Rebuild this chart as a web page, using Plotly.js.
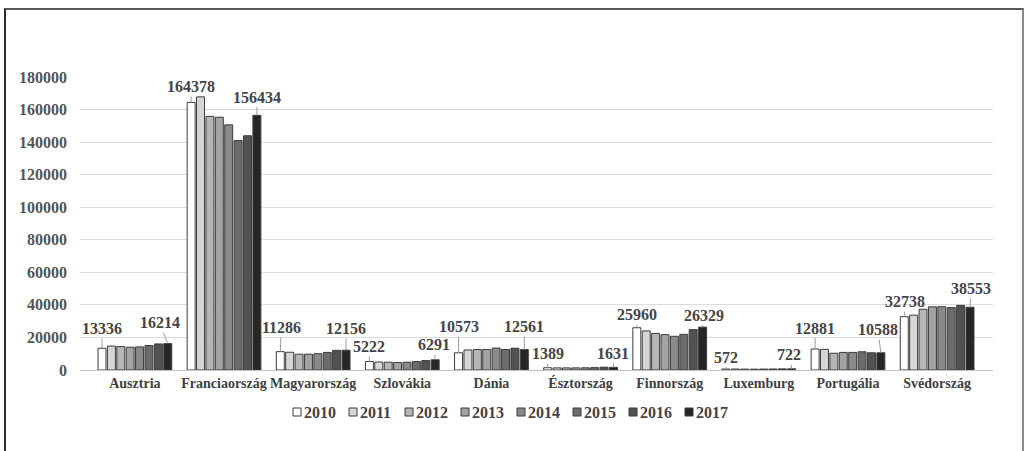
<!DOCTYPE html>
<html>
<head>
<meta charset="utf-8">
<script src="https://cdn.plot.ly/plotly-3.0.1.min.js"></script>
<style>
  html, body { margin: 0; padding: 0; background: #fff; }
  #wrap { position: relative; width: 1024px; height: 451px; overflow: hidden; }
  #frame {
    position: absolute; left: 4px; top: 8px; width: 1020px; height: 480px;
    box-sizing: border-box;
    border-left: 2px solid #2a2a2a; border-top: 2px solid #5a5a5a; border-right: 2px solid #8a8a8a;
  }
  #chart { position: absolute; left: 0; top: 0; width: 1024px; height: 451px; }
</style>
</head>
<body>
<div id="wrap"><div id="frame"></div><div id="chart"></div></div>
<script>
// Countries on the x axis
const countries = ['Ausztria', 'Franciaország', 'Magyarország', 'Szlovákia', 'Dánia',
                   'Észtország', 'Finnország', 'Luxemburg', 'Portugália', 'Svédország'];
const years = ['2010', '2011', '2012', '2013', '2014', '2015', '2016', '2017'];

// One series per year, values in country order
const v2010 = [13336, 164378, 11286, 5222, 10573, 1389, 25960, 572, 12881, 32738];
const v2011 = [14700, 167800, 10900, 4900, 12300, 1300, 24000, 600, 12700, 33700];
const v2012 = [14400, 155800, 9700, 4800, 12600, 1300, 22500, 550, 10300, 37300];
const v2013 = [14000, 155300, 9700, 4600, 12600, 1300, 21700, 520, 10800, 38800];
const v2014 = [14200, 150600, 10000, 4800, 13500, 1350, 20700, 580, 10800, 38900];
const v2015 = [15000, 141000, 10800, 5200, 12600, 1450, 21900, 620, 11200, 38300];
const v2016 = [16000, 143900, 12100, 5800, 13400, 1700, 24800, 680, 10600, 39700];
const v2017 = [16214, 156434, 12156, 6291, 12561, 1631, 26329, 722, 10588, 38553];
const seriesValues = [v2010, v2011, v2012, v2013, v2014, v2015, v2016, v2017];

// Styling
const yearColors = ['#ffffff', '#d6d6d6', '#b6b6b6', '#a3a3a3', '#8a8a8a', '#6c6c6c', '#525252', '#262626'];
const FONT = 'Liberation Serif';
const BARGAP = 0.157;
const slot = (1 - BARGAP) / years.length;   // width of one bar slot, in category units

// Label offsets (px) for the first- and last-year value labels of each country
const firstLabelOffsets = [[0, -20], [0, -16], [1, -24], [0, -15], [0, -26], [0, -14], [0, -13], [0, -12], [0, -21], [1, -15]];
const lastLabelOffsets  = [[-8, -21], [0, -18], [0, -22], [-1, -15], [0, -23], [0, -14], [1, -12], [-3, -14], [-3, -23], [1, -19]];

const traces = years.map((yr, i) => ({
  type: 'bar',
  name: yr,
  x: countries,
  y: seriesValues[i],
  marker: { color: yearColors[i], line: { color: '#3c3c3c', width: 1 } },
  showlegend: false,
  hoverinfo: 'x+y+name'
}));

const annotations = [];
function addValueLabel(ci, yi, off) {
  const val = seriesValues[yi][ci];
  annotations.push({
    x: ci + (yi - (years.length - 1) / 2) * slot,
    y: val,
    xref: 'x', yref: 'y',
    text: String(val),
    showarrow: true, arrowhead: 0, arrowwidth: 1, arrowcolor: '#9a9a9a', standoff: 0,
    ax: off[0], ay: off[1],
    font: { family: FONT, size: 16, color: '#454545', weight: 'bold' }
  });
}
countries.forEach((c, ci) => {
  addValueLabel(ci, 0, firstLabelOffsets[ci]);
  addValueLabel(ci, years.length - 1, lastLabelOffsets[ci]);
});

// Legend row below the axis: small outlined swatch followed by the year
const M = { l: 80, r: 31, t: 77, b: 81 };
const W = 1024, H = 451;
const plotW = W - M.l - M.r, plotH = H - M.t - M.b;
const px2paperX = px => (px - M.l) / plotW;
const px2paperY = py => (H - M.b - py) / plotH;
const legendStart = 293, legendStep = 56, legendY = 412, sw = 8;

const shapes = [];
years.forEach((yr, i) => {
  const x0 = legendStart + i * legendStep;
  shapes.push({
    type: 'rect', xref: 'paper', yref: 'paper',
    x0: px2paperX(x0), x1: px2paperX(x0 + sw),
    y0: px2paperY(legendY + sw / 2), y1: px2paperY(legendY - sw / 2),
    fillcolor: yearColors[i], line: { color: '#3c3c3c', width: 1 }
  });
  annotations.push({
    xref: 'paper', yref: 'paper',
    x: px2paperX(x0 + sw + 1), y: px2paperY(legendY),
    xanchor: 'left', yanchor: 'middle', showarrow: false,
    text: yr,
    font: { family: FONT, size: 16, color: '#454545', weight: 'bold' }
  });
});

const layout = {
  width: W, height: H,
  margin: M,
  paper_bgcolor: 'rgba(0,0,0,0)',
  plot_bgcolor: '#ffffff',
  barmode: 'group',
  bargap: BARGAP,
  bargroupgap: 0.15,
  font: { family: FONT, color: '#444' },
  xaxis: {
    type: 'category',
    showline: true, linecolor: '#c4c4c4', linewidth: 1,
    ticks: '', showgrid: false,
    tickfont: { family: FONT, size: 14, color: '#404040', weight: 'bold' }
  },
  yaxis: {
    range: [0, 180000], dtick: 20000, tickformat: 'd',
    showgrid: true, gridcolor: '#dcdcdc', gridwidth: 1,
    zeroline: false, showline: false, ticks: '',
    ticklabelstandoff: 12,
    tickfont: { family: FONT, size: 16, color: '#555555', weight: 'bold' }
  },
  annotations: annotations,
  shapes: shapes
};

Plotly.newPlot('chart', traces, layout, { displayModeBar: false, staticPlot: true });
</script>
</body>
</html>
